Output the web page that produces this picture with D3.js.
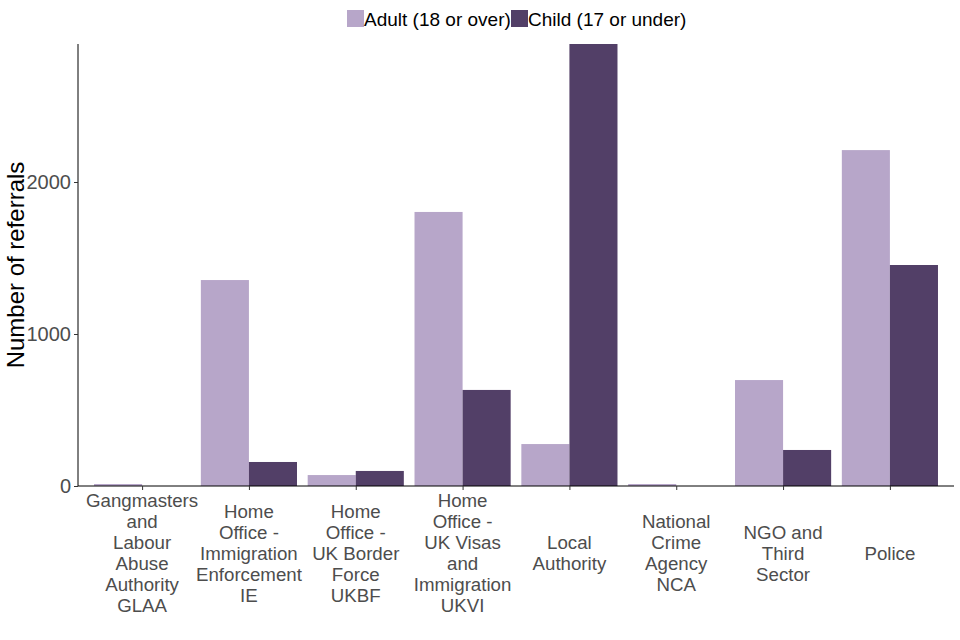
<!DOCTYPE html>
<html>
<head>
<meta charset="utf-8">
<script src="https://cdn.jsdelivr.net/npm/d3@7"></script>
<style>
body { margin: 0; background: #fff; }
text { font-family: "Liberation Sans", Arial, sans-serif; }
</style>
</head>
<body>
<script>
// categories (line breaks as in the picture)
var categories = [
  "Gangmasters\nand\nLabour\nAbuse\nAuthority\nGLAA",
  "Home\nOffice -\nImmigration\nEnforcement\nIE",
  "Home\nOffice -\nUK Border\nForce\nUKBF",
  "Home\nOffice -\nUK Visas\nand\nImmigration\nUKVI",
  "Local\nAuthority",
  "National\nCrime\nAgency\nNCA",
  "NGO and\nThird\nSector",
  "Police"
];
var groups = ["Adult (18 or over)", "Child (17 or under)"];
var adultValues = [13, 1355, 72, 1803, 276, 13, 697, 2210];
var childValues = [0, 158, 99, 632, 2908, 0, 237, 1454];
var yTicks = [0, 1000, 2000];
var colors = ["#b7a6c9", "#523f67"];

var W = 960, H = 640;
var plotL = 78, plotR = 954, plotT = 44, plotB = 486;

var svg = d3.select("body").append("svg")
  .attr("width", W).attr("height", H);

var step = (plotR - plotL) / (categories.length - 1 + 1.2);
var x = d3.scalePoint()
  .domain(categories)
  .range([plotL + 0.6 * step, plotR - 0.6 * step]);

var y = d3.scaleLinear()
  .domain([0, d3.max(childValues.concat(adultValues))])
  .range([plotB, plotT]);

var barW = step * 0.45;

var data = [];
categories.forEach(function(c, i) {
  data.push({cat: c, g: 0, v: adultValues[i]});
  data.push({cat: c, g: 1, v: childValues[i]});
});

svg.selectAll("rect.bar")
  .data(data)
  .enter()
  .append("rect")
  .attr("class", "bar")
  .attr("x", function(d) { return x(d.cat) - barW + d.g * barW; })
  .attr("y", function(d) { return y(d.v); })
  .attr("width", barW)
  .attr("height", function(d) { return plotB - y(d.v); })
  .attr("fill", function(d) { return colors[d.g]; });

// y axis
var yAxis = svg.append("g")
  .attr("transform", "translate(" + plotL + ",0)")
  .call(d3.axisLeft(y).tickValues(yTicks).tickSize(4).tickPadding(3).tickFormat(d3.format("d")));
yAxis.select(".domain").attr("stroke", "#000").attr("d", "M0," + plotT + "V" + plotB);
yAxis.selectAll(".tick line").attr("stroke", "#333");
yAxis.selectAll(".tick text").attr("fill", "#4d4d4d").style("font-size", "20px")
  .style("font-family", "Liberation Sans, Arial, sans-serif");

// x axis
var xAxis = svg.append("g")
  .attr("transform", "translate(0," + plotB + ")")
  .call(d3.axisBottom(x).tickSize(4).tickFormat(""));
xAxis.select(".domain").attr("stroke", "#000").attr("d", "M" + plotL + ",0H" + plotR);
xAxis.selectAll(".tick line").attr("stroke", "#333");

var lineH = 21;
categories.forEach(function(c) {
  var lines = c.split("\n");
  var t = svg.append("text")
    .attr("text-anchor", "middle")
    .attr("fill", "#4d4d4d")
    .style("font-size", "18.7px");
  var y0 = 553 - (lines.length - 1) * lineH / 2;
  lines.forEach(function(l, j) {
    t.append("tspan")
      .attr("x", x(c))
      .attr("y", y0 + j * lineH)
      .attr("dy", "0.35em")
      .text(l);
  });
});

// y title
svg.append("text")
  .attr("transform", "translate(24," + ((plotT + plotB) / 2) + ") rotate(-90)")
  .attr("text-anchor", "middle")
  .style("font-size", "24px")
  .attr("fill", "#000")
  .text("Number of referrals");

// legend
var lg = svg.append("g");
var lx = [347, 511];
groups.forEach(function(g, i) {
  lg.append("rect")
    .attr("x", lx[i]).attr("y", 10)
    .attr("width", 17).attr("height", 17)
    .attr("fill", colors[i]);
  lg.append("text")
    .attr("x", lx[i] + 17)
    .attr("y", 19)
    .attr("dy", "0.35em")
    .style("font-size", "19px")
    .attr("fill", "#000")
    .text(g);
});
</script>
</body>
</html>
